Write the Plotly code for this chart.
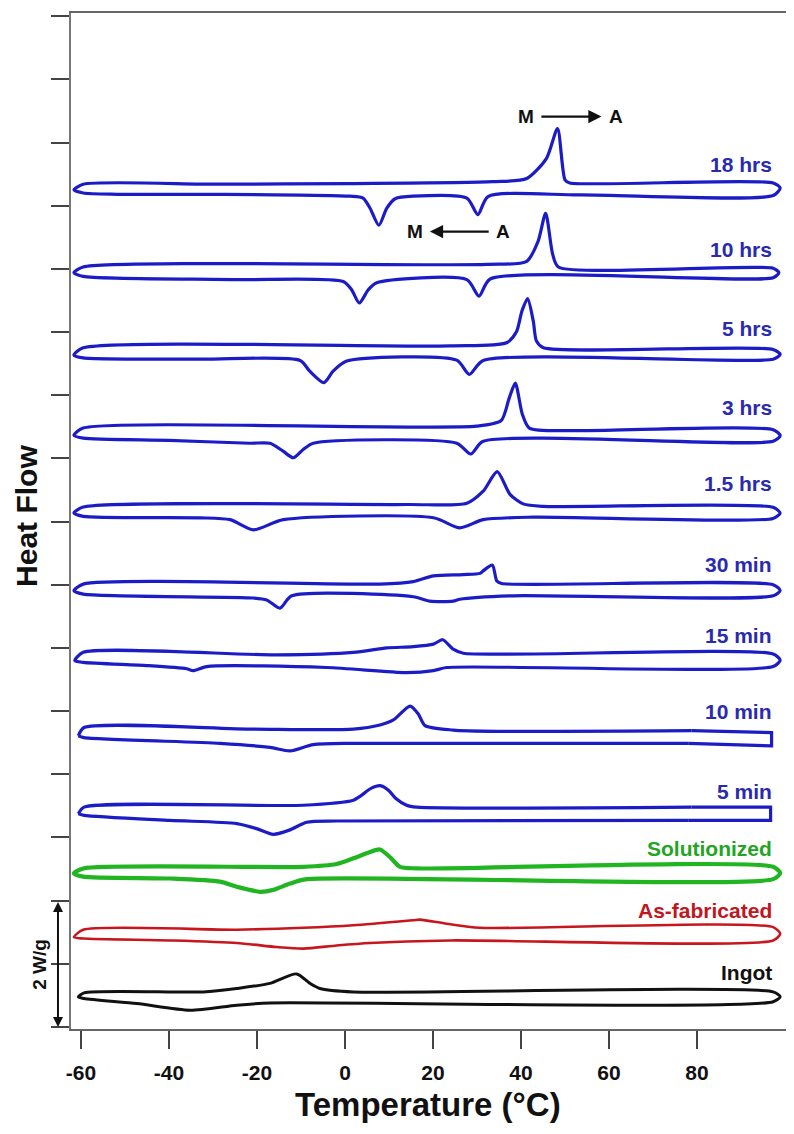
import plotly.graph_objects as go

# ---------------- data (temperature in °C, heat flow in W/g relative to each loop's baseline) -------------
samples = ["18 hrs", "10 hrs", "5 hrs", "3 hrs", "1.5 hrs", "30 min", "15 min",
           "10 min", "5 min", "Solutionized", "As-fabricated", "Ingot"]
offsets = [13.34, 12.03, 10.75, 9.48, 8.23, 7.01, 5.93, 4.74, 3.48, 2.51, 1.54, 0.54]
label_y = [13.65, 12.30, 11.06, 9.80, 8.61, 7.32, 6.19, 5.00, 3.72, 2.82, 1.85, 0.87]

t_18h = [-61.6, -59.5, -29.1, 1.1, 33.6, 41.3, 45.8, 48.3, 50.0, 51.1, 97.3, 98.9, 97.3, 53.4, 32.5, 30.2,
         27.7, 15.5, 11.4, 9.5, 7.7, 5.7, 4.1, 1.1, -29.1, -51.8, -59.5, -61.6]
q_18h = [-0.09, 0, 0, 0.01, 0.04, 0.09, 0.41, 0.88, 0.07, 0.02, 0.02, -0.06, -0.18, -0.17, -0.195, -0.48,
         -0.22, -0.19, -0.23, -0.38, -0.65, -0.38, -0.22, -0.19, -0.16, -0.16, -0.14, -0.09]

t_10h = [-61.6, -59.5, 32.2, 41.3, 43.9, 45.6, 47.2, 48.5, 97.3, 98.6, 97.3, 33.0, 30.45, 27.7, 7.2, 5.3,
         3.25, 1.5, -0.4, -25.5, -59.5, -61.6]
q_10h = [-0.09, 0, 0.04, 0.09, 0.41, 0.85, 0.20, 0.0, -0.02, -0.09, -0.17, -0.19, -0.46, -0.20, -0.25, -0.36,
         -0.57, -0.36, -0.23, -0.20, -0.15, -0.09]

t_5h = [-61.6, -59.5, 23.9, 36.7, 39.0, 40.2, 41.5, 42.8, 43.5, 45.1, 97.3, 98.9, 97.3, 31.4, 28.25, 25.4,
        0.4, -2.7, -4.8, -8.0, -10.2, -32.9, -59.5, -61.6]
q_5h = [-0.115, 0, 0.03, 0.08, 0.26, 0.58, 0.78, 0.42, 0.11, 0.0, -0.025, -0.105, -0.18, -0.20, -0.42, -0.195,
        -0.21, -0.37, -0.55, -0.37, -0.20, -0.18, -0.158, -0.115]

t_3h = [-61.6, -59.5, 29.9, 35.5, 37.3, 38.7, 40.3, 41.9, 53.4, 97.3, 98.9, 97.3, 31.4, 28.6, 25.4, -7.2,
        -9.5, -11.75, -14.0, -17.05, -21.6, -40.0, -59.5, -61.6]
q_3h = [-0.115, 0, 0.03, 0.12, 0.47, 0.71, 0.22, 0.0, -0.04, -0.025, -0.12, -0.21, -0.21, -0.41, -0.24, -0.24,
        -0.34, -0.47, -0.37, -0.24, -0.24, -0.195, -0.16, -0.115]

t_1h5 = [-61.6, -59.5, 14.0, 27.7, 31.4, 34.6, 37.5, 40.5, 45.1, 97.3, 98.9, 97.3, 42.8, 31.4, 26.1, 20.1,
         -14.0, -20.8, -26.1, -33.0, -59.5, -61.6]
q_1h5 = [-0.095, 0, 0.04, 0.06, 0.25, 0.56, 0.20, 0.05, 0.01, -0.005, -0.095, -0.18, -0.16, -0.20, -0.33, -0.17,
         -0.20, -0.36, -0.20, -0.17, -0.147, -0.095]

t_30m = [-61.6, -59.5, 7.95, 15.5, 20.1, 26.8, 30.7, 31.4, 33.5, 34.5, 35.6, 97.3, 98.9, 97.3, 38.2, 26.1,
         24.6, 19.3, 15.5, -12.1, -14.8, -17.8, -20.8, -59.5, -61.6]
q_30m = [-0.105, 0, 0, 0.04, 0.13, 0.15, 0.17, 0.21, 0.30, 0.05, 0.01, -0.01, -0.10, -0.185, -0.185, -0.24,
         -0.27, -0.27, -0.20, -0.185, -0.38, -0.25, -0.22, -0.158, -0.105]

t_15m = [-61.4, -59.5, -15.5, 1.9, 9.5, 15.5, 20.1, 22.2, 24.6, 26.9, 97.3, 98.9, 97.3, 23.1, 20.1, 14.0,
         -4.2, -31.4, -34.5, -36.0, -45.0, -59.5, -61.4]
q_15m = [-0.13, 0, -0.04, 0, 0.07, 0.09, 0.13, 0.20, 0.05, -0.015, -0.025, -0.125, -0.225, -0.24, -0.29, -0.32,
         -0.24, -0.225, -0.29, -0.26, -0.21, -0.16, -0.13]

# 10 min and 5 min: heating branch, squared end, cooling branch
t_10m_heat = [-60.6, -59.3, -20.8, 1.9, 7.95, 11.0, 14.8, 16.7, 18.2, 24.6, 35.2, 78.8]
q_10m_heat = [-0.13, 0, -0.025, -0.025, 0.04, 0.12, 0.34, 0.21, 0.03, -0.04, -0.06, -0.05]
t_10m_end = [78.8, 96.95, 96.95, 78.0]
q_10m_end = [-0.05, -0.08, -0.29, -0.25]
t_10m_cool = [78.0, 1.9, -7.2, -12.5, -17.05, -28.4, -59.3, -60.6]
q_10m_cool = [-0.25, -0.25, -0.27, -0.37, -0.315, -0.25, -0.16, -0.13]

t_5m_heat = [-60.6, -59.3, -9.5, 1.9, 3.4, 6.0, 8.0, 10.0, 11.5, 14.0, 16.3, 78.8]
q_5m_heat = [-0.105, 0, 0.03, 0.11, 0.17, 0.30, 0.34, 0.26, 0.14, 0.03, 0, 0]
t_5m_end = [78.8, 96.73, 96.73, 78.0]
q_5m_end = [0, 0, -0.21, -0.21]
t_5m_cool = [78.0, -1.9, -8.7, -12.5, -16.3, -20.1, -24.6, -39.8, -59.3, -60.6]
q_5m_cool = [-0.21, -0.22, -0.24, -0.36, -0.43, -0.34, -0.26, -0.21, -0.13, -0.105]

t_sol = [-61.6, -59.5, -9.5, -1.9, 1.9, 5.7, 7.95, 10.2, 12.5, 16.3, 97.3, 98.9, 97.3, -8.7, -12.5, -16.3,
         -19.3, -24.6, -28.4, -39.8, -59.5, -61.6]
q_sol = [-0.08, 0, 0.025, 0.07, 0.16, 0.26, 0.30, 0.18, 0.025, 0, 0.025, -0.075, -0.17, -0.17, -0.24, -0.34,
         -0.37, -0.29, -0.21, -0.16, -0.13, -0.08]

t_asf = [-61.6, -59.5, -24.6, -9.5, 1.9, 15.5, 17.05, 23.1, 30.7, 97.3, 98.9, 97.3, 23.9, 5.7, -1.9, -9.5,
         -15.5, -24.6, -39.8, -59.5, -61.6]
q_asf = [-0.12, 0, 0, 0.03, 0.07, 0.15, 0.16, 0.095, 0.03, 0.04, -0.065, -0.17, -0.17, -0.21, -0.25, -0.30,
         -0.275, -0.21, -0.17, -0.14, -0.12]

t_ing = [-60.6, -59.3, -32.2, -24.6, -17.05, -11.0, -7.95, -5.7, 1.9, 97.3, 98.9, 97.3, -17.05, -24.6, -35.2,
         -47.3, -59.3, -60.6]
q_ing = [-0.065, 0, 0.015, 0.07, 0.15, 0.30, 0.15, 0.07, 0.015, 0.015, -0.06, -0.14, -0.16, -0.195, -0.275,
         -0.17, -0.09, -0.065]

x_ticks = [-60, -40, -20, 0, 20, 40, 60, 80]
x_ticktext = ["-60", "-40", "-20", "0", "20", "40", "60", "80"]
y_ticks = list(range(0, 17))

# ---------------- styling ----------------
BLUE = "#1c1cc6"
BLUE_TXT = "#2a2ab0"
GREEN = "#22b522"
GREEN_TXT = "#22a522"
RED = "#c8161e"
RED_TXT = "#c0161e"
BLACK = "#111111"
FONT = "Liberation Sans"

# (segments, line color, width, label color)
curves = [
    ([(t_18h, q_18h, "spline")], BLUE, 3.2, BLUE_TXT),
    ([(t_10h, q_10h, "spline")], BLUE, 3.2, BLUE_TXT),
    ([(t_5h, q_5h, "spline")], BLUE, 3.2, BLUE_TXT),
    ([(t_3h, q_3h, "spline")], BLUE, 3.2, BLUE_TXT),
    ([(t_1h5, q_1h5, "spline")], BLUE, 3.2, BLUE_TXT),
    ([(t_30m, q_30m, "spline")], BLUE, 3.2, BLUE_TXT),
    ([(t_15m, q_15m, "spline")], BLUE, 3.2, BLUE_TXT),
    ([(t_10m_heat, q_10m_heat, "spline"), (t_10m_end, q_10m_end, "linear"),
      (t_10m_cool, q_10m_cool, "spline")], BLUE, 3.2, BLUE_TXT),
    ([(t_5m_heat, q_5m_heat, "spline"), (t_5m_end, q_5m_end, "linear"),
      (t_5m_cool, q_5m_cool, "spline")], BLUE, 3.2, BLUE_TXT),
    ([(t_sol, q_sol, "spline")], GREEN, 4.2, GREEN_TXT),
    ([(t_asf, q_asf, "spline")], RED, 2.6, RED_TXT),
    ([(t_ing, q_ing, "spline")], BLACK, 3.0, BLACK),
]

fig = go.Figure()
annotations = []
for name, off, ly, (segs, col, w, tcol) in zip(samples, offsets, label_y, curves):
    for t, q, shape in segs:
        fig.add_trace(go.Scatter(
            x=t, y=[off + v for v in q], mode="lines",
            line=dict(color=col, width=w, shape=shape, smoothing=0.7),
            showlegend=False, hoverinfo="skip"))
    annotations.append(dict(x=97.6, y=ly, xref="x", yref="y", text=name, showarrow=False,
                            xanchor="right", yanchor="middle",
                            font=dict(family=FONT, size=21, color=tcol, weight="bold")))

# M -> A and M <- A markers
txt = dict(family=FONT, size=19, color="#111", weight="bold")
annotations += [
    dict(x=41.1, y=14.41, text="M", showarrow=False, xref="x", yref="y", xanchor="center", font=txt),
    dict(x=61.5, y=14.41, text="A", showarrow=False, xref="x", yref="y", xanchor="center", font=txt),
    dict(x=58.3, y=14.41, ax=44.3, ay=14.41, xref="x", yref="y", axref="x", ayref="y",
         text="", showarrow=True, arrowhead=2, arrowsize=1.1, arrowwidth=2.4, arrowcolor="#111"),
    dict(x=15.8, y=12.59, text="M", showarrow=False, xref="x", yref="y", xanchor="center", font=txt),
    dict(x=36.0, y=12.59, text="A", showarrow=False, xref="x", yref="y", xanchor="center", font=txt),
    dict(x=19.3, y=12.59, ax=33.0, ay=12.59, xref="x", yref="y", axref="x", ayref="y",
         text="", showarrow=True, arrowhead=2, arrowsize=1.1, arrowwidth=2.4, arrowcolor="#111"),
]

# scale bar 2 W/g
annotations += [
    dict(x=-0.0182, y=0, xref="paper", yref="y", ax=0, ay=-126.6, text="", showarrow=True,
         arrowhead=2, startarrowhead=2, arrowside="end+start", arrowsize=1.0, arrowwidth=2,
         arrowcolor="#111"),
    dict(x=-0.0434, y=1.0, xref="paper", yref="y", text="2 W/g", textangle=-90, showarrow=False,
         xanchor="center", yanchor="middle",
         font=dict(family=FONT, size=19, color="#111", weight="bold")),
]

# axis titles
annotations += [
    dict(x=0.499, y=-0.0747, xref="paper", yref="paper", text="Temperature (°C)", showarrow=False,
         xanchor="center", yanchor="middle",
         font=dict(family=FONT, size=33, color="#111", weight="bold")),
    dict(x=-0.0615, y=0.505, xref="paper", yref="paper", text="Heat Flow", textangle=-90,
         showarrow=False, xanchor="center", yanchor="middle",
         font=dict(family=FONT, size=30, color="#111", weight="bold")),
]

# the page body adds an 8px margin, so the figure is 8px smaller and shifted accordingly
fig.update_layout(
    width=786, height=1126,
    margin=dict(l=63, r=8, t=3, b=105),
    paper_bgcolor="white", plot_bgcolor="white",
    annotations=annotations,
    xaxis=dict(range=[-62.27, 100.23], tickvals=x_ticks, ticktext=x_ticktext, ticks="outside",
               ticklen=18, tickwidth=2, tickcolor="#444", showline=True, linecolor="#666",
               linewidth=2, mirror=True, showgrid=False, zeroline=False, ticklabelstandoff=6,
               tickfont=dict(family=FONT, size=21, color="#111", weight="bold")),
    yaxis=dict(range=[-0.032, 16.05], tickvals=y_ticks, ticks="outside", ticklen=18, tickwidth=2,
               tickcolor="#444", showline=True, linecolor="#777", linewidth=2, mirror=True,
               showgrid=False, zeroline=False, showticklabels=False),
)

fig.write_html("out.html")
